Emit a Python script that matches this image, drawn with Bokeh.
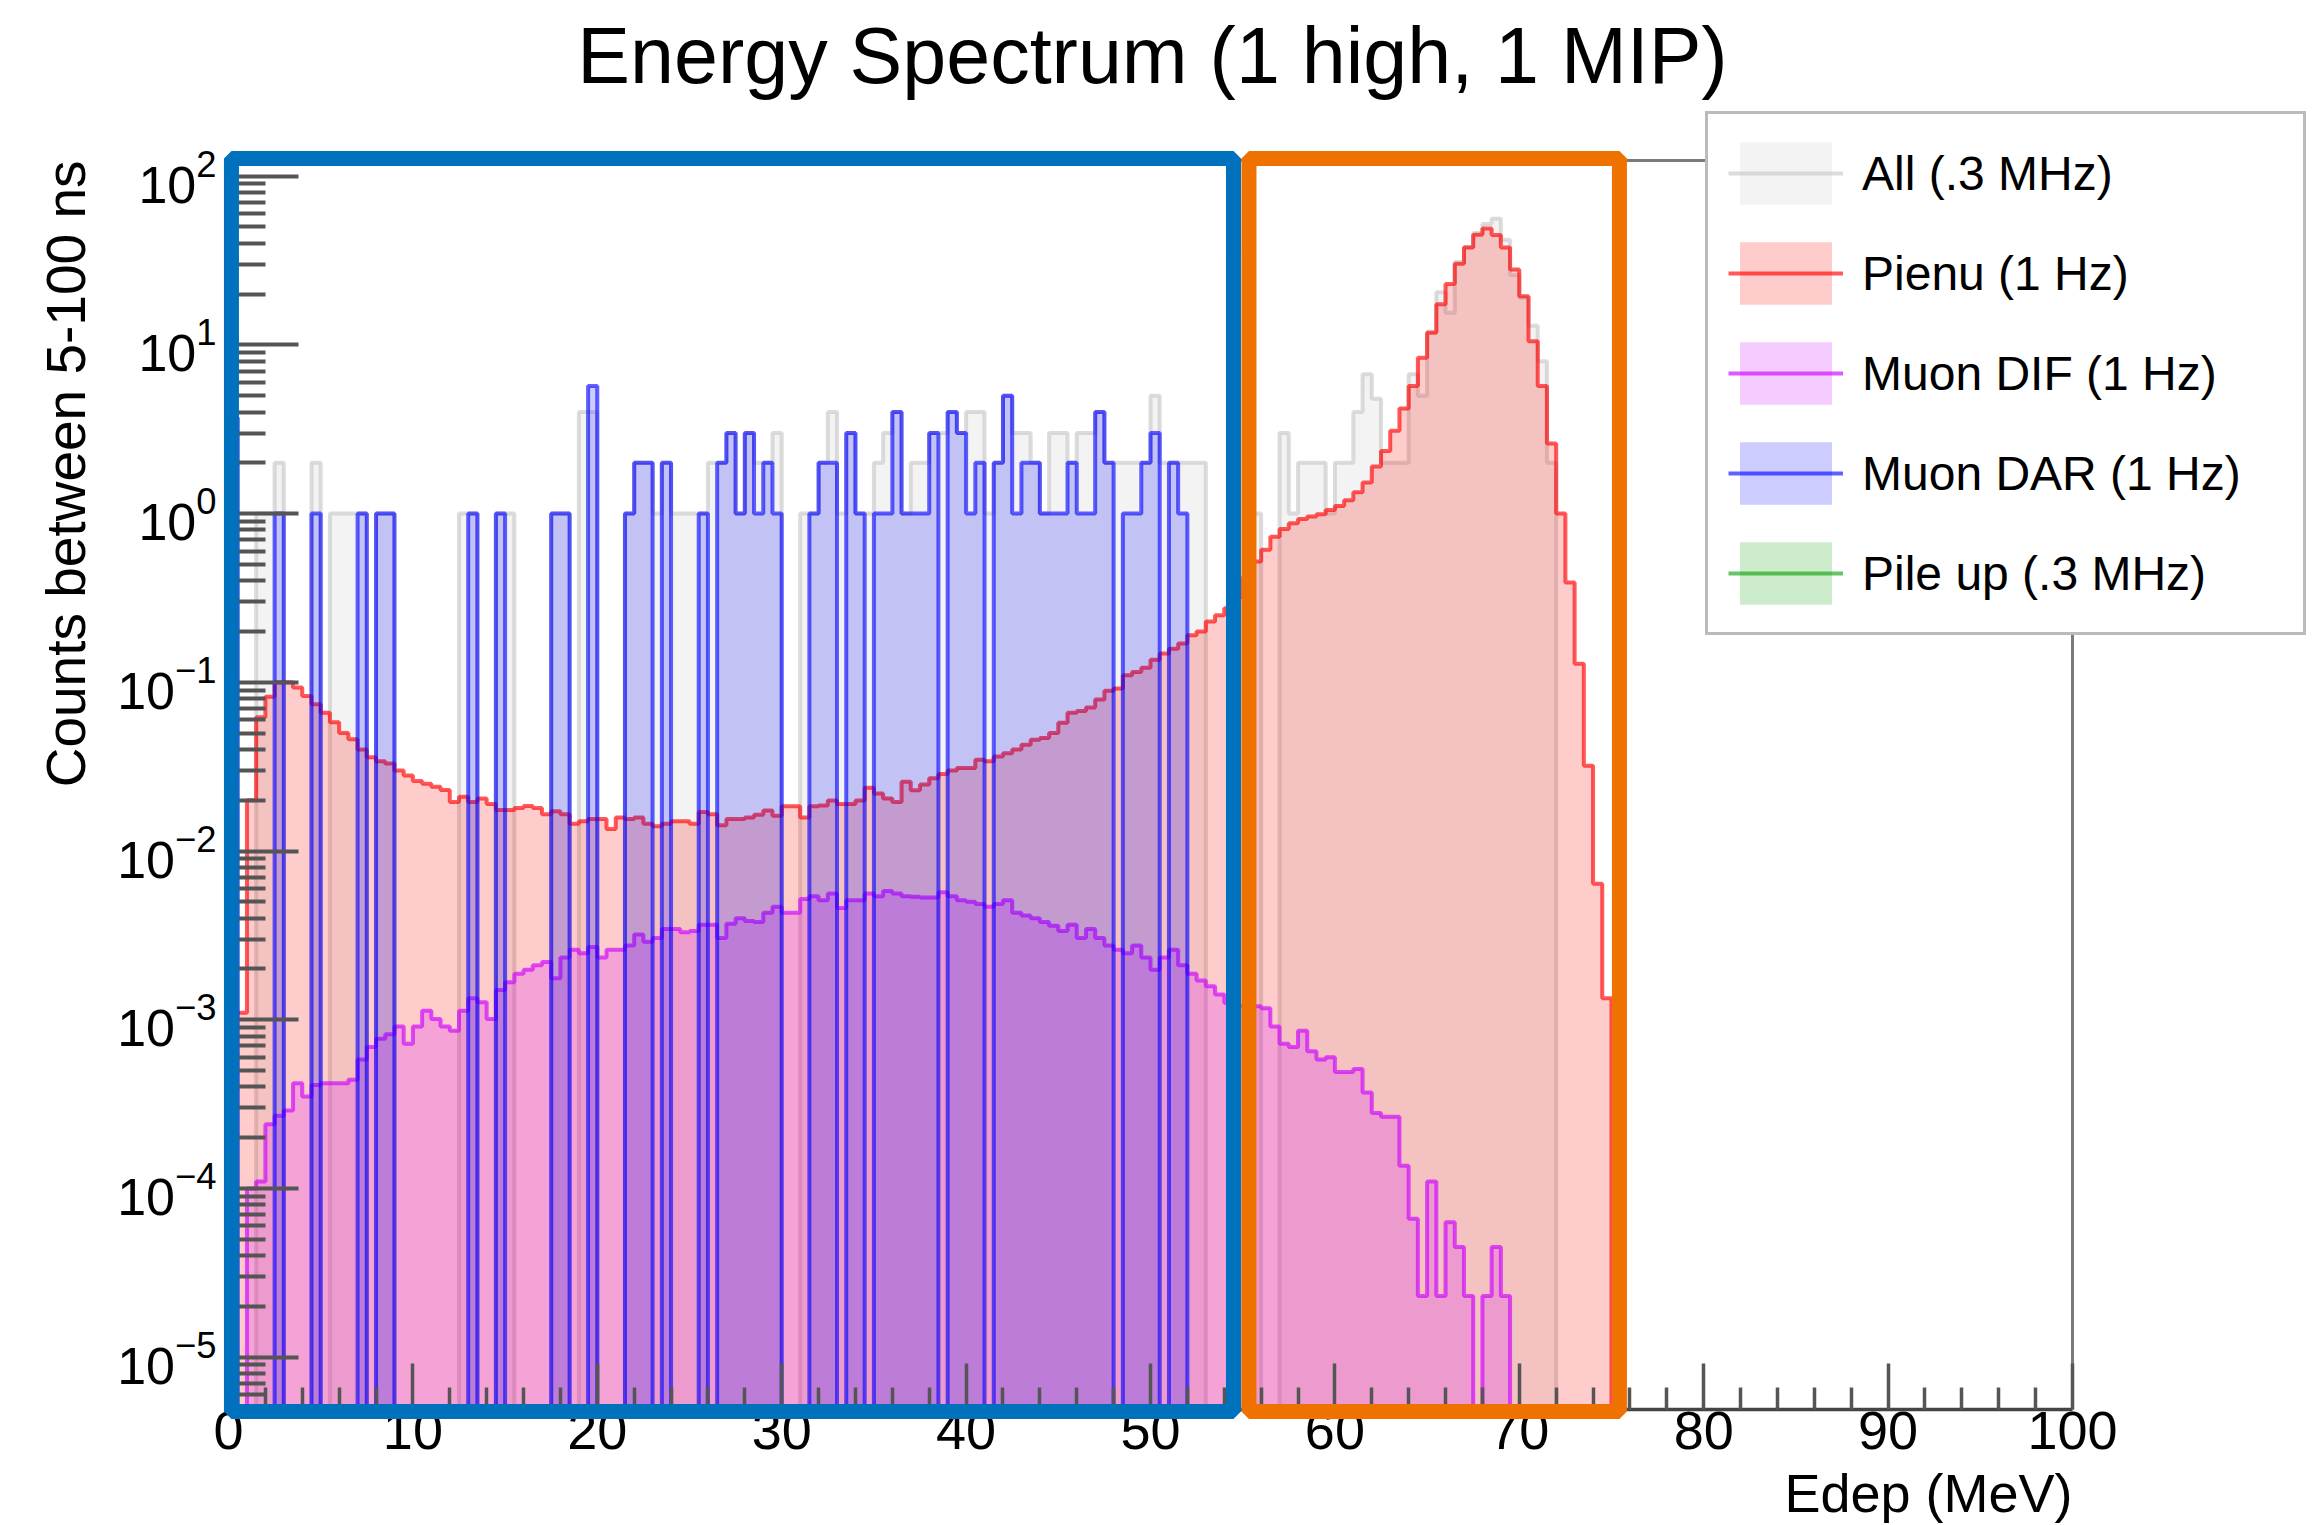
import numpy as np
from bokeh.plotting import figure
from bokeh.models import (Range1d, FixedTicker, Legend, LegendItem, Label, BoxAnnotation)
from bokeh.embed import file_html
from bokeh.resources import INLINE

# ---------------- data (bin width 0.5 MeV, bins start at 0 MeV) ----------------
BIN_WIDTH = 0.5

pienu_counts = [
    0.0011, 0.0011, 0.020, 0.062, 0.082, 0.100, 0.100, 0.093, 0.083, 0.074,
    0.066, 0.058, 0.050, 0.046, 0.040, 0.036, 0.034, 0.033, 0.030, 0.028,
    0.026, 0.025, 0.024, 0.023, 0.0195, 0.021, 0.0195, 0.0205, 0.019, 0.0175,
    0.0175, 0.018, 0.0185, 0.018, 0.0165, 0.0172, 0.0165, 0.0145, 0.015, 0.0155,
    0.0155, 0.0135, 0.0158, 0.0155, 0.0158, 0.0145, 0.014, 0.0145, 0.015, 0.015,
    0.0145, 0.017, 0.0165, 0.0142, 0.0155, 0.0155, 0.0158, 0.0164, 0.0174, 0.0162,
    0.0184, 0.0184, 0.0158, 0.0184, 0.0186, 0.0199, 0.019, 0.019, 0.0199, 0.0237,
    0.0219, 0.0205, 0.0195, 0.0257, 0.0229, 0.0248, 0.027, 0.0286, 0.030, 0.031,
    0.031, 0.0347, 0.034, 0.0363, 0.038, 0.040, 0.0427, 0.0457, 0.0468, 0.050,
    0.0575, 0.066, 0.0676, 0.0708, 0.079, 0.089, 0.092, 0.110, 0.115, 0.122,
    0.136, 0.148, 0.158, 0.170, 0.190, 0.200, 0.229, 0.250, 0.275, 0.32,
    0.42, 0.52, 0.61, 0.73, 0.81, 0.877, 0.93, 0.96, 0.99, 1.05,
    1.11, 1.20, 1.34, 1.53, 1.9, 2.35, 3.1, 4.2, 5.7, 8.4,
    11.8, 17.4, 23.0, 30.3, 37.8, 45.0, 49.0, 44.8, 37.8, 28.0,
    19.4, 10.5, 5.7, 2.6, 1.0, 0.39, 0.129, 0.032, 0.0064, 0.00134,
]

muon_dif_counts = [
    0, 0, 1.0e-4, 1.1e-4, 2.4e-4, 2.7e-4, 2.9e-4, 4.2e-4, 3.5e-4, 4.1e-4,
    4.2e-4, 4.2e-4, 4.2e-4, 4.4e-4, 5.8e-4, 6.9e-4, 7.7e-4, 8.2e-4, 9.1e-4, 7.2e-4,
    9.1e-4, 1.13e-3, 1.01e-3, 9.1e-4, 8.6e-4, 1.13e-3, 1.34e-3, 1.27e-3, 1.01e-3, 1.5e-3,
    1.67e-3, 1.87e-3, 1.98e-3, 2.1e-3, 2.2e-3, 1.76e-3, 2.34e-3, 2.6e-3, 2.48e-3, 2.7e-3,
    2.34e-3, 2.6e-3, 2.6e-3, 2.75e-3, 3.2e-3, 2.9e-3, 3.05e-3, 3.45e-3, 3.45e-3, 3.3e-3,
    3.35e-3, 3.65e-3, 3.65e-3, 3.05e-3, 3.7e-3, 4.0e-3, 3.85e-3, 3.8e-3, 4.3e-3, 4.67e-3,
    4.3e-3, 4.3e-3, 5.2e-3, 5.4e-3, 5.1e-3, 5.6e-3, 4.6e-3, 5.1e-3, 5.1e-3, 5.6e-3,
    5.4e-3, 5.8e-3, 5.6e-3, 5.4e-3, 5.35e-3, 5.3e-3, 5.3e-3, 5.7e-3, 5.4e-3, 5.1e-3,
    5.0e-3, 4.85e-3, 4.67e-3, 4.85e-3, 5.1e-3, 4.3e-3, 4.15e-3, 4.0e-3, 3.8e-3, 3.6e-3,
    3.35e-3, 3.65e-3, 3.05e-3, 3.45e-3, 3.05e-3, 2.75e-3, 2.6e-3, 2.48e-3, 2.75e-3, 2.34e-3,
    1.98e-3, 2.34e-3, 2.6e-3, 2.1e-3, 1.87e-3, 1.71e-3, 1.58e-3, 1.41e-3, 1.26e-3, 1.2e-3,
    1.2e-3, 1.2e-3, 1.17e-3, 9.1e-4, 7.2e-4, 6.9e-4, 8.6e-4, 6.5e-4, 5.8e-4, 6.0e-4,
    4.9e-4, 4.9e-4, 5.1e-4, 3.7e-4, 2.8e-4, 2.66e-4, 2.66e-4, 1.36e-4, 6.6e-5, 2.3e-5,
    1.1e-4, 2.3e-5, 6.3e-5, 4.5e-5, 2.3e-5, 0, 2.3e-5, 4.5e-5, 2.3e-5,
]

muon_dar_counts = [
    3.7, 0, 0, 0, 0, 1, 0, 0, 0, 1,
    0, 0, 0, 0, 1, 0, 1, 1, 0, 0,
    0, 0, 0, 0, 0, 0, 1, 0, 0, 1,
    0, 0, 0, 0, 0, 1, 1, 0, 0, 5.7,
    0, 0, 0, 1, 2, 2, 0, 2, 0, 0,
    0, 1, 0, 2, 3, 1, 3, 1, 2, 1,
    0, 0, 0, 1, 2, 2, 0, 3, 1, 0,
    1, 1, 4, 1, 1, 1, 3, 0, 4, 3,
    1, 2, 0, 2, 5, 1, 2, 2, 1, 1,
    1, 2, 1, 1, 4, 2, 0, 1, 1, 2,
    3, 0, 2, 1,
]

all_counts = [
    3.7, 0, 0, 1, 1, 2, 0, 0, 0, 2,
    0, 1, 1, 1, 1, 0, 1, 1, 0, 0,
    0, 0, 0, 0, 0, 1, 1, 0, 0, 1,
    1, 0, 0, 0, 0, 1, 1, 0, 4, 4,
    0, 0, 0, 1, 2, 2, 1, 2, 1, 1,
    1, 1, 2, 2, 3, 1, 3, 2, 2, 3,
    0, 0, 1, 1, 2, 4, 1, 3, 1, 1,
    2, 3, 4, 1, 2, 2, 3, 3, 4, 3,
    4, 4, 1, 2, 5, 3, 3, 2, 1, 3,
    3, 2, 3, 3, 4, 2, 2, 2, 2, 2,
    5, 2, 2, 2, 2, 2, 0, 0, 0, 0,
    0, 1, 0, 0, 3, 1, 2, 2, 2, 1,
    2, 2, 4, 6.7, 4.8, 2, 2, 2, 6.7, 5,
    12, 20.5, 15.5, 31, 38, 46, 52, 56, 42, 26,
    19, 13, 8, 2,
]

pileup_counts = []  # no entries in the displayed range

series_labels = ["All (.3 MHz)", "Pienu (1 Hz)", "Muon DIF (1 Hz)",
                 "Muon DAR (1 Hz)", "Pile up (.3 MHz)"]
series_colors = ["#c4c4c4", "#ff0000", "#cc00ff", "#0000ff", "#00a000"]
line_alphas = [0.6, 0.65, 0.65, 0.62, 0.6]

x_major_ticks = [0, 10, 20, 30, 40, 50, 60, 70, 80, 90, 100]
y_decades = [-5, -4, -3, -2, -1, 0, 1, 2]

title_text = "Energy Spectrum (1 high, 1 MIP)"
x_title = "Edep (MeV)"
y_title = "Counts between 5-100 ns"

# highlighted regions (MeV) drawn over the plot
blue_region = [0.16, 54.5]
orange_region = [55.34, 75.43]

# ---------------- layout constants (pixels) ----------------
W, H = 2322, 1525
FRAME_L, FRAME_R, FRAME_T, FRAME_B = 228, 2072, 160, 1409
PX_PER_MEV = (FRAME_R - FRAME_L) / 100.0
DECADE_PX = 168.7
Y100_PX = 175.7                     # pixel row of y = 10^2
FONT = "Liberation Sans"
MID = 0.3465                        # baseline -> text middle, in em


def px_to_x(px):
    return (px - FRAME_L) / PX_PER_MEV


def py_to_y(py):
    return 10.0 ** (2 + (Y100_PX - py) / DECADE_PX)


X_LO, X_HI = px_to_x(0), px_to_x(W)
Y_LO, Y_HI = py_to_y(H), py_to_y(0)
Y_MIN, Y_MAX = py_to_y(FRAME_B), py_to_y(FRAME_T)   # ROOT frame limits
FLOOR = Y_MIN


def step_outline(counts):
    c = np.asarray(counts, dtype=float)
    c = np.where(c > FLOOR, c, FLOOR)
    edges = np.arange(len(c) + 1) * BIN_WIDTH
    xs = np.concatenate([[edges[0]], np.repeat(edges, 2)[1:-1], [edges[-1]]])
    ys = np.concatenate([[FLOOR], np.repeat(c, 2), [FLOOR]])
    return xs, ys


p = figure(width=W, height=H, x_range=Range1d(X_LO, X_HI), y_range=Range1d(Y_LO, Y_HI),
           y_axis_type="log", output_backend="svg", toolbar_location=None,
           min_border_left=0, min_border_right=0, min_border_top=0, min_border_bottom=0)
p.background_fill_color = "white"
p.border_fill_color = "white"
p.xgrid.visible = False
p.ygrid.visible = False
p.outline_line_color = None

# x axis, placed on the bottom edge of the histogram frame
xa = p.xaxis[0]
xa.fixed_location = Y_MIN
xa.bounds = (0, 100)
xa.ticker = FixedTicker(ticks=x_major_ticks,
                        minor_ticks=[v for v in range(0, 101, 2) if v % 10])
xa.major_tick_in = 46
xa.major_tick_out = 0
xa.minor_tick_in = 22
xa.minor_tick_out = 0
xa.major_tick_line_color = "#555555"
xa.minor_tick_line_color = "#555555"
xa.major_tick_line_width = 3.5
xa.minor_tick_line_width = 3.5
xa.axis_line_color = "#444444"
xa.axis_line_width = 3.5
xa.major_label_text_font = FONT
xa.major_label_text_font_size = "54px"
xa.major_label_text_color = "black"
xa.major_label_standoff = 2

# y axis (log), placed at x = 0
ya = p.yaxis[0]
ya.fixed_location = 0
ya.bounds = (Y_MIN, Y_MAX)
y_minor = [m * 10.0 ** n for n in range(-6, 3) for m in range(2, 10)]
ya.ticker = FixedTicker(ticks=[10.0 ** n for n in y_decades],
                        minor_ticks=[v for v in y_minor if Y_MIN <= v <= Y_MAX])
ya.major_tick_in = 70
ya.major_tick_out = 0
ya.minor_tick_in = 37
ya.minor_tick_out = 0
ya.major_tick_line_color = "#555555"
ya.minor_tick_line_color = "#555555"
ya.major_tick_line_width = 4
ya.minor_tick_line_width = 4
ya.axis_line_color = "#444444"
ya.axis_line_width = 3.5
ya.major_label_text_font = FONT
ya.major_label_text_font_size = "52px"
ya.major_label_text_color = "black"
ya.major_label_standoff = 12

# top and right edges of the histogram frame
p.segment(x0=[0, 100], y0=[Y_MAX, Y_MIN], x1=[100, 100], y1=[Y_MAX, Y_MAX],
          line_color="#7a7a7a", line_width=3)

# histograms (drawn in ROOT order)
all_series = [all_counts, pienu_counts, muon_dif_counts, muon_dar_counts, pileup_counts]
legend_items = []
dot = p.scatter(x=[], y=[], marker="square", size=4, fill_color="#222222",
                line_color="#222222")
for counts, color, la, lab in zip(all_series, series_colors, line_alphas, series_labels):
    xs, ys = step_outline(counts)
    area = p.varea(x=xs, y1=np.full(len(xs), FLOOR), y2=ys,
                   fill_color=color, fill_alpha=0.2)
    line = p.line(xs, ys, line_color=color, line_alpha=la, line_width=4)
    legend_items.append(LegendItem(label=lab, renderers=[area, line, dot]))

# highlighted regions
for region, col in [(blue_region, "#0072bd"), (orange_region, "#ef7100")]:
    p.add_layout(BoxAnnotation(left=region[0], right=region[1],
                               bottom=py_to_y(1411), top=py_to_y(158),
                               fill_alpha=0, line_color=col, line_width=15,
                               line_alpha=1))

# legend (bottom-left corner given in pixels from the canvas bottom-left)
LEG_PAD = 20
leg_height = 2 * LEG_PAD + 5 * 78 + 4 * 22
leg_top = 117
legend = Legend(items=legend_items, location=(1705, H - (leg_top + leg_height)),
                orientation="vertical", glyph_width=115, glyph_height=78,
                spacing=22, padding=LEG_PAD, margin=0, label_standoff=19,
                label_width=2300 - 1705 - 2 * LEG_PAD - 115 - 19, label_height=78,
                label_text_font=FONT,
                label_text_font_size="48px", label_text_color="black",
                border_line_color="#777777", border_line_width=3.5,
                background_fill_color="white", background_fill_alpha=1)
p.add_layout(legend)

# titles (anchored at the text middle)
p.add_layout(Label(x=px_to_x(1152), y=py_to_y(82 - MID * 79), text=title_text,
                   text_align="center", text_baseline="middle", text_font=FONT,
                   text_font_size="79px", text_color="black"))
p.add_layout(Label(x=100, y=py_to_y(1511 - MID * 54), text=x_title,
                   text_align="right", text_baseline="middle", text_font=FONT,
                   text_font_size="54px", text_color="black"))
p.add_layout(Label(x=px_to_x(85 - MID * 55), y=py_to_y(160), text=y_title,
                   angle=np.pi / 2, text_align="right", text_baseline="middle",
                   text_font=FONT, text_font_size="55px", text_color="black"))

open("out.html", "w").write(file_html(p, INLINE))
